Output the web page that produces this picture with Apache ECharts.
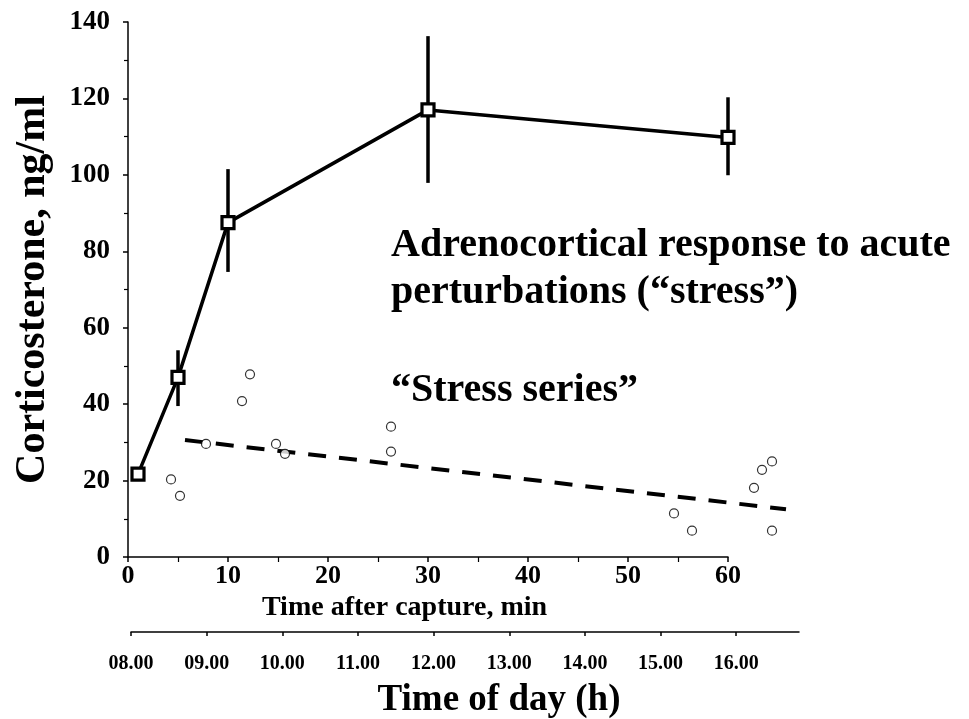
<!DOCTYPE html>
<html>
<head>
<meta charset="utf-8">
<script src="https://cdn.jsdelivr.net/npm/echarts@6/dist/echarts.min.js"></script>
<style>
html,body{margin:0;padding:0;background:#fff;}
#chart{width:969px;height:719px;}
</style>
</head>
<body>
<div id="chart"></div>
<script>
// ---- data ----
var stressMinutes = [1, 5, 10, 30, 60];
var stressMean = [21.7, 47.0, 87.5, 117.0, 109.8];
var stressLow = [21.7, 39.5, 74.6, 97.9, 99.9];
var stressHigh = [21.7, 54.1, 101.5, 136.3, 120.3];

var seriesX = [4.3, 5.2, 7.8, 11.4, 12.2, 14.8, 15.7, 26.3, 26.3, 54.6, 56.4, 62.6, 63.4, 64.4, 64.4];
var seriesY = [20.3, 16.0, 29.6, 40.8, 47.8, 29.6, 27.0, 34.1, 27.6, 11.4, 6.9, 18.1, 22.8, 25.0, 6.9];

var trendX = [5.7, 65.8];
var trendY = [30.6, 12.5];

var dayHours = [8, 9, 10, 11, 12, 13, 14, 15, 16];
var dayLabels = ['08.00', '09.00', '10.00', '11.00', '12.00', '13.00', '14.00', '15.00', '16.00'];

// ---- build ----
var FONT = 'Liberation Serif';
function pairs(xs, ys) { return xs.map(function (x, i) { return [x, ys[i]]; }); }

var chart = echarts.init(document.getElementById('chart'), null, { renderer: 'canvas' });

var option = {
  backgroundColor: '#fff',
  animation: false,
  grid: [
    { left: 128, top: 22, width: 600, height: 535, outerBoundsMode: 'none', containLabel: false },
    { left: 131, top: 600, width: 668, height: 32, outerBoundsMode: 'none', containLabel: false }
  ],
  xAxis: [
    {
      type: 'value', gridIndex: 0, min: 0, max: 60, interval: 10,
      axisLine: { show: true, lineStyle: { color: '#000', width: 1.5 } },
      axisTick: { show: true, length: 5, lineStyle: { color: '#000', width: 1.5 } },
      minorTick: { show: true, splitNumber: 2, length: 5, lineStyle: { color: '#000', width: 1.2 } },
      splitLine: { show: false },
      axisLabel: { color: '#000', fontFamily: FONT, fontWeight: 'bold', fontSize: 26, margin: 6 },
      name: 'Time after capture, min', nameLocation: 'middle', nameGap: 34,
      nameTextStyle: { color: '#000', fontFamily: FONT, fontWeight: 'bold', fontSize: 28, padding: [0, 47, 0, 0] }
    },
    {
      type: 'value', gridIndex: 1, min: 8, max: 16.83,
      axisLine: { show: true, lineStyle: { color: '#000', width: 1.5 } },
      axisTick: { show: true, length: 4, customValues: dayHours, lineStyle: { color: '#000', width: 1.5 } },
      splitLine: { show: false },
      axisLabel: {
        color: '#000', fontFamily: FONT, fontWeight: 'bold', fontSize: 20, margin: 22,
        customValues: dayHours,
        formatter: function (v) { var i = dayHours.indexOf(v); return i >= 0 ? dayLabels[i] : ''; }
      },
      name: 'Time of day (h)', nameLocation: 'middle', nameGap: 50,
      nameTextStyle: { color: '#000', fontFamily: FONT, fontWeight: 'bold', fontSize: 37, padding: [0, 0, 0, 68] }
    }
  ],
  yAxis: [
    {
      type: 'value', gridIndex: 0, min: 0, max: 140, interval: 20,
      axisLine: { show: true, lineStyle: { color: '#000', width: 1.5 } },
      axisTick: { show: true, length: 5, lineStyle: { color: '#000', width: 1.5 } },
      minorTick: { show: true, splitNumber: 2, length: 4, lineStyle: { color: '#000', width: 1.2 } },
      splitLine: { show: false },
      axisLabel: { color: '#000', fontFamily: FONT, fontWeight: 'bold', fontSize: 27, margin: 18 },
      name: 'Corticosterone, ng/ml', nameLocation: 'middle', nameGap: 74, nameRotate: 90,
      nameTextStyle: { color: '#000', fontFamily: FONT, fontWeight: 'bold', fontSize: 42 }
    },
    { type: 'value', gridIndex: 1, show: false, min: 0, max: 1 }
  ],
  series: [
    {
      type: 'custom', xAxisIndex: 0, yAxisIndex: 0, z: 2,
      data: stressMinutes.map(function (x, i) { return [x, stressLow[i], stressHigh[i]]; }),
      renderItem: function (params, api) {
        var lo = api.coord([api.value(0), api.value(1)]);
        var hi = api.coord([api.value(0), api.value(2)]);
        return { type: 'line', shape: { x1: lo[0], y1: lo[1], x2: hi[0], y2: hi[1] },
                 style: { stroke: '#000', lineWidth: 3.5 } };
      }
    },
    {
      type: 'line', xAxisIndex: 0, yAxisIndex: 0, z: 4,
      data: pairs(stressMinutes, stressMean),
      symbol: 'rect', symbolSize: 12, showAllSymbol: true,
      lineStyle: { color: '#000', width: 3.5 },
      itemStyle: { color: '#fff', borderColor: '#000', borderWidth: 3.2 }
    },
    {
      type: 'custom', xAxisIndex: 0, yAxisIndex: 0, z: 3, clip: false,
      data: [[trendX[0], trendY[0], trendX[1], trendY[1]]],
      renderItem: function (params, api) {
        var a = api.coord([api.value(0), api.value(1)]);
        var b = api.coord([api.value(2), api.value(3)]);
        return { type: 'line', shape: { x1: a[0], y1: a[1], x2: b[0], y2: b[1] },
                 style: { stroke: '#000', lineWidth: 4, lineDash: [18, 13] } };
      }
    },
    {
      type: 'scatter', xAxisIndex: 0, yAxisIndex: 0, z: 3, clip: false,
      data: pairs(seriesX, seriesY),
      symbol: 'circle', symbolSize: 9,
      itemStyle: { color: '#fff', borderColor: '#000', borderWidth: 1.2 }
    }
  ],
  graphic: [
    { type: 'text', x: 391, y: 246, style: { text: 'Adrenocortical response to acute', fill: '#000',
      font: 'bold 40px "Liberation Serif"', verticalAlign: 'middle', align: 'left' } },
    { type: 'text', x: 391, y: 293, style: { text: 'perturbations (\u201cstress\u201d)', fill: '#000',
      font: 'bold 40px "Liberation Serif"', verticalAlign: 'middle', align: 'left' } },
    { type: 'text', x: 391, y: 391, style: { text: '\u201cStress series\u201d', fill: '#000',
      font: 'bold 40px "Liberation Serif"', verticalAlign: 'middle', align: 'left' } }
  ]
};
chart.setOption(option);
</script>
</body>
</html>
